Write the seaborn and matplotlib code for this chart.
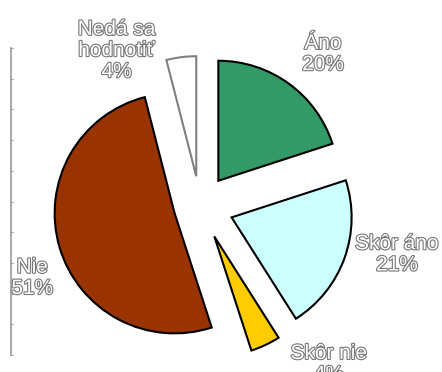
import matplotlib
matplotlib.use("Agg")
import matplotlib.pyplot as plt
import matplotlib.patheffects as pe
import numpy as np
import seaborn as sns

# Survey answers, clockwise from 12 o'clock
categories = ["Áno", "Skôr áno", "Skôr nie", "Nie", "Nedá sa\nhodnotiť"]
shares = [20, 21, 4, 51, 4]
colors = ["#339966", "#CCFFFF", "#FFCC00", "#993300", "#FFFFFF"]
edge_colors = ["#000000", "#000000", "#000000", "#000000", "#808080"]
explode = [0.26, 0.28, 0.28, 0.22, 0.25]

# label placement: (angle offset from wedge middle in degrees, radius in pie radii)
label_offsets = [(3, 1.63), (-6, 1.69), (-14, 1.70), (-7, 1.52), (-21, 1.47)]

sns.set_theme(style="white")
plt.rcParams["font.family"] = ["Liberation Sans", "DejaVu Sans"]

W, H, DPI = 442, 372, 100
fig = plt.figure(figsize=(W / DPI, H / DPI), dpi=DPI)

# thin grey axis line at the left edge
ax_line = fig.add_axes([11 / W, 1 - 355 / H, 0.001, (355 - 48) / H])
ax_line.set_ylim(0, 10)
ax_line.set_yticks(range(11))
ax_line.set_yticklabels([])
ax_line.set_xticks([])
for side in ["top", "right", "bottom"]:
    ax_line.spines[side].set_visible(False)
ax_line.spines["left"].set_color("#999999")
ax_line.spines["left"].set_linewidth(1.2)
ax_line.tick_params(axis="y", direction="in", length=1.5, width=0.8, color="#999999", left=True)
ax_line.patch.set_alpha(0)

ax = fig.add_axes([0, 0, 1, 1])
ax.patch.set_alpha(0)
R_px = 120.0
cx, cy = 200.0, 206.0
wedges, _ = ax.pie(
    shares,
    colors=colors,
    explode=explode,
    startangle=90,
    counterclock=False,
    radius=1.0,
    wedgeprops=dict(linewidth=1.5),
)
for w, ec in zip(wedges, edge_colors):
    w.set_edgecolor(ec)

ax.set_xlim(-cx / R_px, (W - cx) / R_px)
ax.set_ylim(-(H - cy) / R_px, cy / R_px)
ax.set_aspect("equal")
ax.axis("off")

total = sum(shares)
start = 0.0
for cat, val, (doff, rad) in zip(categories, shares, label_offsets):
    mid = start + val / total * 360 / 2
    start += val / total * 360
    ang = np.deg2rad(mid + doff)
    x, y = rad * np.sin(ang), rad * np.cos(ang)
    ax.text(
        x, y, f"{cat}\n{val}%",
        ha="center", va="center", fontsize=15, color="white",
        linespacing=1.15,
        path_effects=[pe.withStroke(linewidth=1.6, foreground="#777777")],
    )

fig.savefig("out.png", dpi=DPI, facecolor="white")
